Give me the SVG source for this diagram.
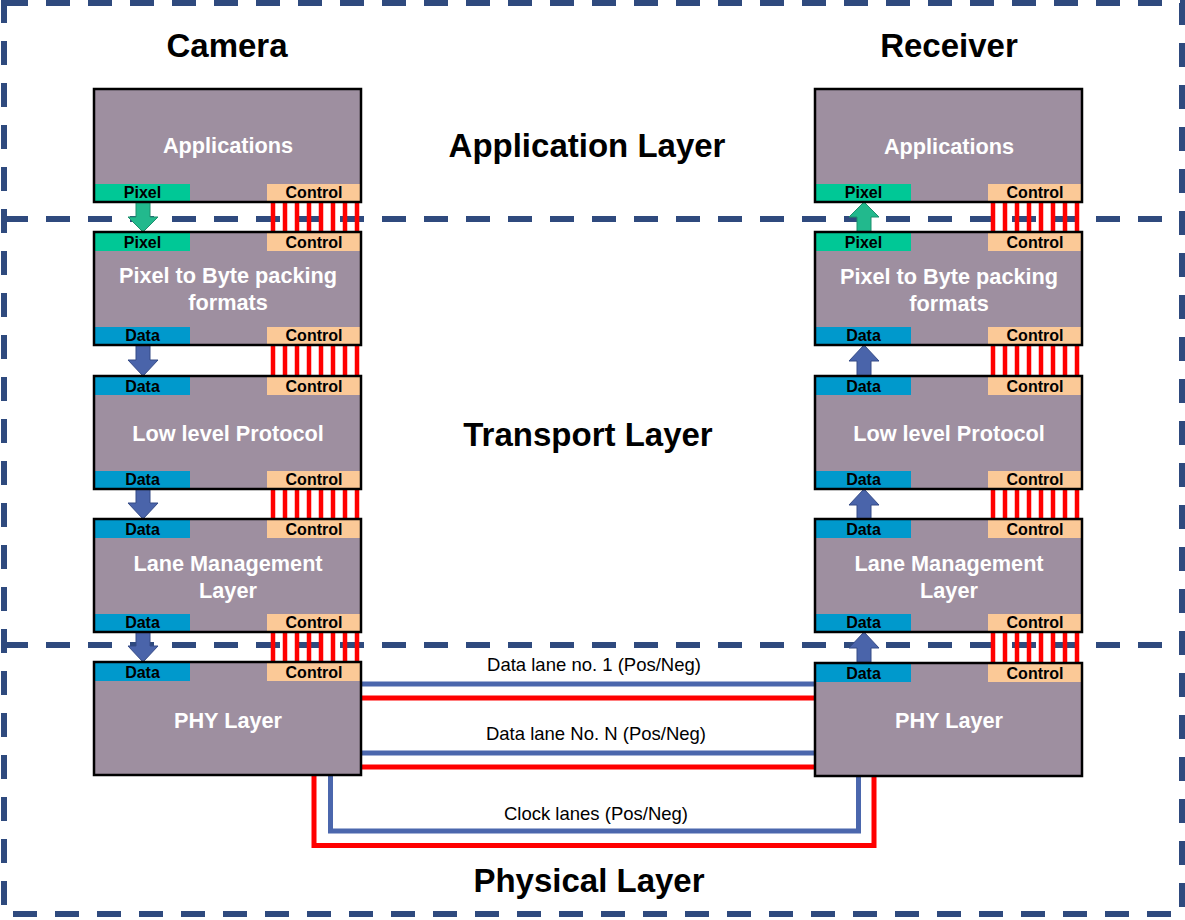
<svg xmlns="http://www.w3.org/2000/svg" width="1185" height="920" viewBox="0 0 1185 920">
<style>
.dash{fill:none;stroke:#2F4A7E;stroke-width:6;stroke-dasharray:24 18}
.box{fill:#9E8FA0}
.bord{fill:none;stroke:#000;stroke-width:2.5}
.pix{fill:#00C896}
.dat{fill:#0099CC}
.ctl{fill:#FBC997}
.tab{font-family:"Liberation Sans",Arial,sans-serif;font-weight:bold;font-size:16px;fill:#000;text-anchor:middle}
.lbl{font-family:"Liberation Sans",Arial,sans-serif;font-weight:bold;font-size:21.7px;fill:#fff;text-anchor:middle}
.title{font-family:"Liberation Sans",Arial,sans-serif;font-weight:bold;font-size:33px;fill:#000;text-anchor:middle}
.lane{font-family:"Liberation Sans",Arial,sans-serif;font-size:18.5px;fill:#000;text-anchor:middle}
.red{stroke:#FF0000;stroke-width:4.5;fill:none}
.blu{stroke:#4B67AD;stroke-width:5;fill:none}
.ga{fill:#22B98D;stroke:#1C8F6C;stroke-width:1}
.ba{fill:#4A64AA;stroke:#344A86;stroke-width:1}
</style>

<g id="layers">
<rect class="dash" x="4" y="3" width="1178" height="911"/>
<line class="dash" x1="4" y1="219" x2="1182" y2="219"/>
<line class="dash" x1="4" y1="645" x2="1182" y2="645"/>
</g>

<g id="titles">
<text class="title" x="227" y="57">Camera</text>
<text class="title" x="949" y="57">Receiver</text>
<text class="title" x="587" y="157">Application Layer</text>
<text class="title" x="588" y="446">Transport Layer</text>
<text class="title" x="589" y="892">Physical Layer</text>
</g>

<g id="connectors">
<g class="red">
<path d="M273 202V232M285 202V232M297 202V232M309 202V232M321 202V232M333 202V232M345 202V232M357 202V232"/>
<path d="M273 345V376M285 345V376M297 345V376M309 345V376M321 345V376M333 345V376M345 345V376M357 345V376"/>
<path d="M273 489V519M285 489V519M297 489V519M309 489V519M321 489V519M333 489V519M345 489V519M357 489V519"/>
<path d="M273 632V662M285 632V662M297 632V662M309 632V662M321 632V662M333 632V662M345 632V662M357 632V662"/>
<path d="M993 202V232M1005 202V232M1017 202V232M1029 202V232M1041 202V232M1053 202V232M1065 202V232M1077 202V232"/>
<path d="M993 345V376M1005 345V376M1017 345V376M1029 345V376M1041 345V376M1053 345V376M1065 345V376M1077 345V376"/>
<path d="M993 489V519M1005 489V519M1017 489V519M1029 489V519M1041 489V519M1053 489V519M1065 489V519M1077 489V519"/>
<path d="M993 632V662M1005 632V662M1017 632V662M1029 632V662M1041 632V662M1053 632V662M1065 632V662M1077 632V662"/>
</g>
<path class="ga" d="M136 202H150V217H158L143 232L128 217H136Z"/>
<path class="ba" d="M136 345H150V360H158L143 376L128 360H136Z"/>
<path class="ba" d="M136 489H150V503H158L143 519L128 503H136Z"/>
<path class="ba" d="M136 632H150V646H158L143 662L128 646H136Z"/>
<path class="ga" d="M857 232H871V217H879L864 202L849 217H857Z"/>
<path class="ba" d="M857 376H871V361H879L864 345L849 361H857Z"/>
<path class="ba" d="M857 519H871V505H879L864 489L849 505H857Z"/>
<path class="ba" d="M857 662H871V648H879L864 632L849 648H857Z"/>
<line class="blu" x1="361" y1="684" x2="815" y2="684"/>
<line class="red" x1="361" y1="698" x2="815" y2="698" style="stroke-width:5"/>
<line class="blu" x1="361" y1="753" x2="815" y2="753"/>
<line class="red" x1="361" y1="767" x2="815" y2="767" style="stroke-width:5"/>
<path class="red" style="stroke-width:5" d="M314 775V845.5H874V775"/>
<path class="blu" d="M330.5 775V831H858.5V775"/>
<text class="lane" x="594" y="670.5">Data lane no. 1 (Pos/Neg)</text>
<text class="lane" x="596" y="739.5">Data lane No. N (Pos/Neg)</text>
<text class="lane" x="596" y="820">Clock lanes (Pos/Neg)</text>
</g>

<g id="cam-app">
<rect class="box" x="94" y="89" width="267" height="113"/>
<rect class="pix" x="95" y="184" width="95" height="17"/>
<rect class="ctl" x="267" y="184" width="94" height="17"/>
<rect class="bord" x="94" y="89" width="267" height="113"/>
<text class="lbl" x="228" y="153">Applications</text>
<text class="tab" x="142.5" y="197.5">Pixel</text>
<text class="tab" x="314" y="197.5">Control</text>
</g>

<g id="cam-pack">
<rect class="box" x="94" y="232" width="267" height="113"/>
<rect class="pix" x="95" y="233" width="95" height="18"/>
<rect class="ctl" x="267" y="233" width="94" height="18"/>
<rect class="dat" x="95" y="327" width="95" height="17"/>
<rect class="ctl" x="267" y="327" width="94" height="17"/>
<rect class="bord" x="94" y="232" width="267" height="113"/>
<text class="lbl" x="228" y="283">Pixel to Byte packing</text>
<text class="lbl" x="228" y="310">formats</text>
<text class="tab" x="142.5" y="247.5">Pixel</text>
<text class="tab" x="314" y="247.5">Control</text>
<text class="tab" x="142.5" y="340.5">Data</text>
<text class="tab" x="314" y="340.5">Control</text>
</g>

<g id="cam-llp">
<rect class="box" x="94" y="376" width="267" height="113"/>
<rect class="dat" x="95" y="377" width="95" height="18"/>
<rect class="ctl" x="267" y="377" width="94" height="18"/>
<rect class="dat" x="95" y="471" width="95" height="17"/>
<rect class="ctl" x="267" y="471" width="94" height="17"/>
<rect class="bord" x="94" y="376" width="267" height="113"/>
<text class="lbl" x="228" y="441">Low level Protocol</text>
<text class="tab" x="142.5" y="391.5">Data</text>
<text class="tab" x="314" y="391.5">Control</text>
<text class="tab" x="142.5" y="484.5">Data</text>
<text class="tab" x="314" y="484.5">Control</text>
</g>

<g id="cam-lane">
<rect class="box" x="94" y="519" width="267" height="113"/>
<rect class="dat" x="95" y="520" width="95" height="18"/>
<rect class="ctl" x="267" y="520" width="94" height="18"/>
<rect class="dat" x="95" y="614" width="95" height="17"/>
<rect class="ctl" x="267" y="614" width="94" height="17"/>
<rect class="bord" x="94" y="519" width="267" height="113"/>
<text class="lbl" x="228" y="571">Lane Management</text>
<text class="lbl" x="228" y="598">Layer</text>
<text class="tab" x="142.5" y="534.5">Data</text>
<text class="tab" x="314" y="534.5">Control</text>
<text class="tab" x="142.5" y="627.5">Data</text>
<text class="tab" x="314" y="627.5">Control</text>
</g>

<g id="cam-phy">
<rect class="box" x="94" y="662" width="267" height="113"/>
<rect class="dat" x="95" y="663" width="95" height="18"/>
<rect class="ctl" x="267" y="663" width="94" height="18"/>
<rect class="bord" x="94" y="662" width="267" height="113"/>
<text class="lbl" x="228" y="728">PHY Layer</text>
<text class="tab" x="142.5" y="678">Data</text>
<text class="tab" x="314" y="678">Control</text>
</g>

<g id="rx-app">
<rect class="box" x="815" y="89" width="267" height="113"/>
<rect class="pix" x="816" y="184" width="95" height="17"/>
<rect class="ctl" x="988" y="184" width="94" height="17"/>
<rect class="bord" x="815" y="89" width="267" height="113"/>
<text class="lbl" x="949" y="154">Applications</text>
<text class="tab" x="863.5" y="198">Pixel</text>
<text class="tab" x="1035" y="198">Control</text>
</g>

<g id="rx-pack">
<rect class="box" x="815" y="232" width="267" height="113"/>
<rect class="pix" x="816" y="233" width="95" height="18"/>
<rect class="ctl" x="988" y="233" width="94" height="18"/>
<rect class="dat" x="816" y="327" width="95" height="17"/>
<rect class="ctl" x="988" y="327" width="94" height="17"/>
<rect class="bord" x="815" y="232" width="267" height="113"/>
<text class="lbl" x="949" y="284">Pixel to Byte packing</text>
<text class="lbl" x="949" y="311">formats</text>
<text class="tab" x="863.5" y="247.5">Pixel</text>
<text class="tab" x="1035" y="247.5">Control</text>
<text class="tab" x="863.5" y="341">Data</text>
<text class="tab" x="1035" y="341">Control</text>
</g>

<g id="rx-llp">
<rect class="box" x="815" y="376" width="267" height="113"/>
<rect class="dat" x="816" y="377" width="95" height="18"/>
<rect class="ctl" x="988" y="377" width="94" height="18"/>
<rect class="dat" x="816" y="471" width="95" height="17"/>
<rect class="ctl" x="988" y="471" width="94" height="17"/>
<rect class="bord" x="815" y="376" width="267" height="113"/>
<text class="lbl" x="949" y="441">Low level Protocol</text>
<text class="tab" x="863.5" y="391.5">Data</text>
<text class="tab" x="1035" y="391.5">Control</text>
<text class="tab" x="863.5" y="484.5">Data</text>
<text class="tab" x="1035" y="484.5">Control</text>
</g>

<g id="rx-lane">
<rect class="box" x="815" y="519" width="267" height="113"/>
<rect class="dat" x="816" y="520" width="95" height="18"/>
<rect class="ctl" x="988" y="520" width="94" height="18"/>
<rect class="dat" x="816" y="614" width="95" height="17"/>
<rect class="ctl" x="988" y="614" width="94" height="17"/>
<rect class="bord" x="815" y="519" width="267" height="113"/>
<text class="lbl" x="949" y="571">Lane Management</text>
<text class="lbl" x="949" y="598">Layer</text>
<text class="tab" x="863.5" y="534.5">Data</text>
<text class="tab" x="1035" y="534.5">Control</text>
<text class="tab" x="863.5" y="627.5">Data</text>
<text class="tab" x="1035" y="627.5">Control</text>
</g>

<g id="rx-phy">
<rect class="box" x="815" y="663" width="267" height="113"/>
<rect class="dat" x="816" y="664" width="95" height="18"/>
<rect class="ctl" x="988" y="664" width="94" height="18"/>
<rect class="bord" x="815" y="663" width="267" height="113"/>
<text class="lbl" x="949" y="728">PHY Layer</text>
<text class="tab" x="863.5" y="679">Data</text>
<text class="tab" x="1035" y="679">Control</text>
</g>
</svg>
